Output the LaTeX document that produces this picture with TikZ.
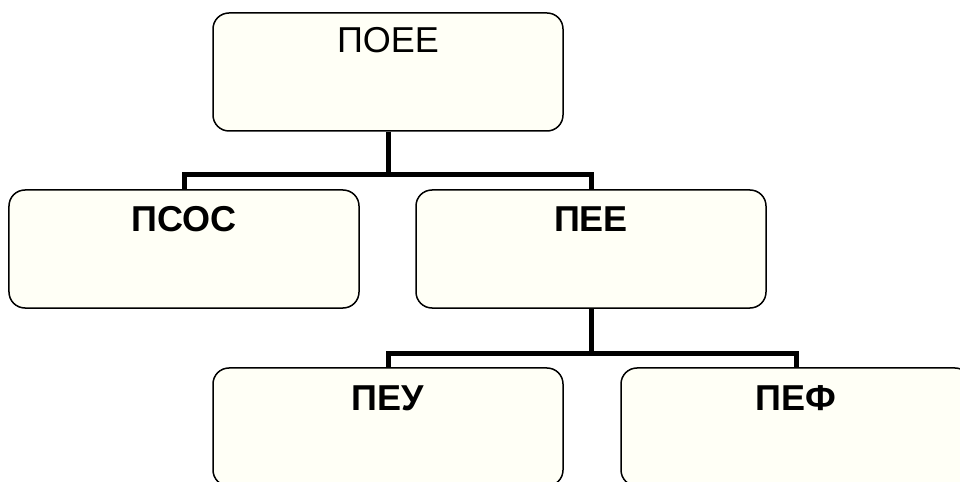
\documentclass[tikz,border=0pt]{standalone}
\usepackage{fontspec}
\setmainfont{Liberation Sans}
\definecolor{boxfill}{RGB}{255,255,246}
\tikzset{
  orgbox/.style={draw=black, line width=1.5bp, fill=boxfill, rounded corners=16bp,
    minimum width=350bp, minimum height=118bp, inner xsep=0pt, inner ysep=0pt,
    text height=42bp, text depth=76bp, font=\fontsize{36bp}{43bp}\selectfont\bfseries},
  conn/.style={line width=5bp, black}
}
\begin{document}
\begin{tikzpicture}[x=1bp, y=-1bp]
\useasboundingbox (0,0) rectangle (960,482);
\clip (0,0) rectangle (960,482);
\fill[white] (0,0) rectangle (960,482);
\node[orgbox, font=\fontsize{36bp}{43bp}\selectfont, text height=40bp, text depth=78bp] (poee) at (388,72) {ПОЕЕ};
\node[orgbox] (psos) at (184,249) {ПСОС};
\node[orgbox] (pee) at (591,249) {ПЕЕ};
\node[orgbox] (peu) at (388,427) {ПЕУ};
\node[orgbox] (pef) at (796,427) {ПЕФ};
\coordinate (j1) at (388,175);
\coordinate (j2) at (591,353);
\draw[conn] (poee.south) -- (j1);
\draw[conn] (psos.north) |- (j1) -| (pee.north);
\draw[conn] (pee.south) -- (j2);
\draw[conn] (peu.north) |- (j2) -| (pef.north);
\end{tikzpicture}
\end{document}
